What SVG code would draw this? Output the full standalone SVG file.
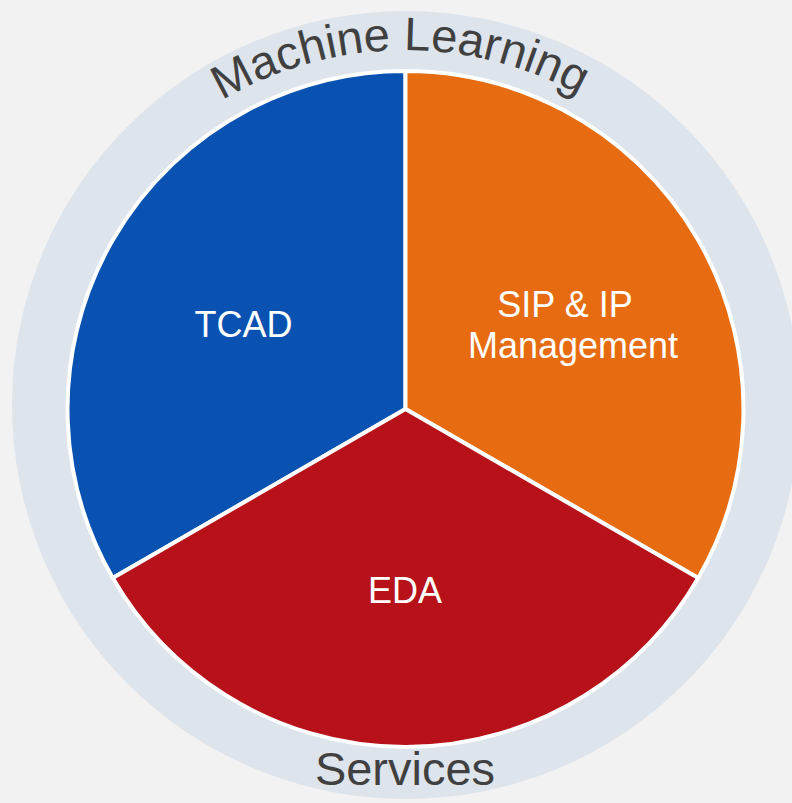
<svg xmlns="http://www.w3.org/2000/svg" width="792" height="803" viewBox="0 0 792 803">
  <style>
    .seg { stroke: #ffffff; stroke-width: 4; stroke-linejoin: round; }
    .lbl { font-family: "Liberation Sans", Arial, sans-serif; font-size: 36px; fill: #ffffff; text-anchor: middle; }
    .ring { font-family: "Liberation Sans", Arial, sans-serif; font-size: 47px; fill: #404040; }
  </style>
  <defs>
    <path id="topArc" d="M 46.5,409 A 359,359 0 0,1 764.5,409"/>
  </defs>
  <rect width="792" height="803" fill="#f2f2f2"/>
  <g id="outer-ring">
    <circle cx="406" cy="405" r="394" fill="#dde4ec"/>
    <text class="ring"><textPath href="#topArc" startOffset="558" text-anchor="middle">Machine Learning</textPath></text>
    <text class="ring" x="405" y="785" text-anchor="middle" font-size="45">Services</text>
  </g>
  <g id="tcad">
    <path class="seg" fill="#0952b1" d="M405.5,409 L405.5,71 A338,338 0 0,0 112.8,578 Z"/>
    <text class="lbl" x="243.5" y="337">TCAD</text>
  </g>
  <g id="sip">
    <path class="seg" fill="#e76b11" d="M405.5,409 L405.5,71 A338,338 0 0,1 698.2,578 Z"/>
    <text class="lbl" x="565" y="316.5">SIP &amp; IP</text>
    <text class="lbl" x="573" y="358">Management</text>
  </g>
  <g id="eda">
    <path class="seg" fill="#b7121a" d="M405.5,409 L112.8,578 A338,338 0 0,0 698.2,578 Z"/>
    <text class="lbl" x="405" y="603">EDA</text>
  </g>
  <g id="connectors"></g>
</svg>
